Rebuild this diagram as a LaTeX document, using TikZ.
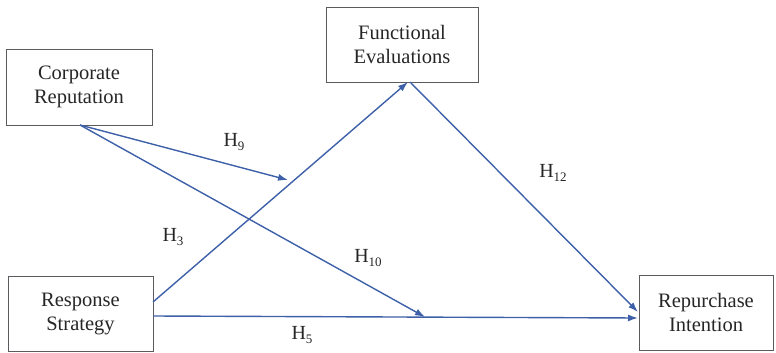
\documentclass[tikz,border=0pt]{standalone}
\usepackage{fontspec}
\setmainfont{Liberation Serif}
\usetikzlibrary{arrows.meta}
\definecolor{arrowblue}{RGB}{62,96,168}
\definecolor{boxgray}{RGB}{90,90,95}
\newcommand\hyp[1]{H\raisebox{-4pt}{\fontsize{13}{13}\selectfont #1}}
\tikzset{
  varbox/.style={draw=boxgray, line width=0.9pt, align=center, inner sep=0pt,
    font=\fontsize{20.5}{24}\selectfont, text=black!85},
  link/.style={draw=arrowblue, line width=1.4pt, -{Latex[length=10pt,width=7pt]}},
  hlabel/.style={font=\fontsize{20}{22}\selectfont, text=black!85, inner sep=0pt}
}
\begin{document}
\begin{tikzpicture}[x=1pt,y=-1pt]
\useasboundingbox (0,0) rectangle (776,353);
\node[varbox, minimum width=146pt, minimum height=76pt] (cr) at (79,87) {Corporate\\Reputation};
\node[varbox, minimum width=152pt, minimum height=75pt] (fe) at (402,44.5) {Functional\\Evaluations};
\node[varbox, minimum width=145pt, minimum height=75pt] (rs) at (80.5,313.5) {Response\\Strategy};
\node[varbox, minimum width=134pt, minimum height=75pt] (ri) at (706,312.5) {Repurchase\\Intention};
\coordinate (crs) at (80,125);
\coordinate (h9end) at (288,180);
\coordinate (h10end) at (425,317);
\coordinate (rs1) at (153,302);
\coordinate (rs2) at (153,316);
\coordinate (fein) at (408,82);
\coordinate (feout) at (410,82);
\coordinate (ri1) at (638,312);
\coordinate (ri2) at (638,318);
\draw[link] (crs) -- (h9end);
\draw[link] (crs) -- (h10end);
\draw[link] (rs1) -- (fein);
\draw[link] (rs2) -- (ri2);
\draw[link] (feout) -- (ri1);
\node[hlabel] (l9) at (234,142) {\hyp{9}};
\node[hlabel] (l3) at (173,237) {\hyp{3}};
\node[hlabel] (l10) at (368,258) {\hyp{10}};
\node[hlabel] (l12) at (553,173) {\hyp{12}};
\node[hlabel] (l5) at (302,335) {\hyp{5}};
\end{tikzpicture}
\end{document}
